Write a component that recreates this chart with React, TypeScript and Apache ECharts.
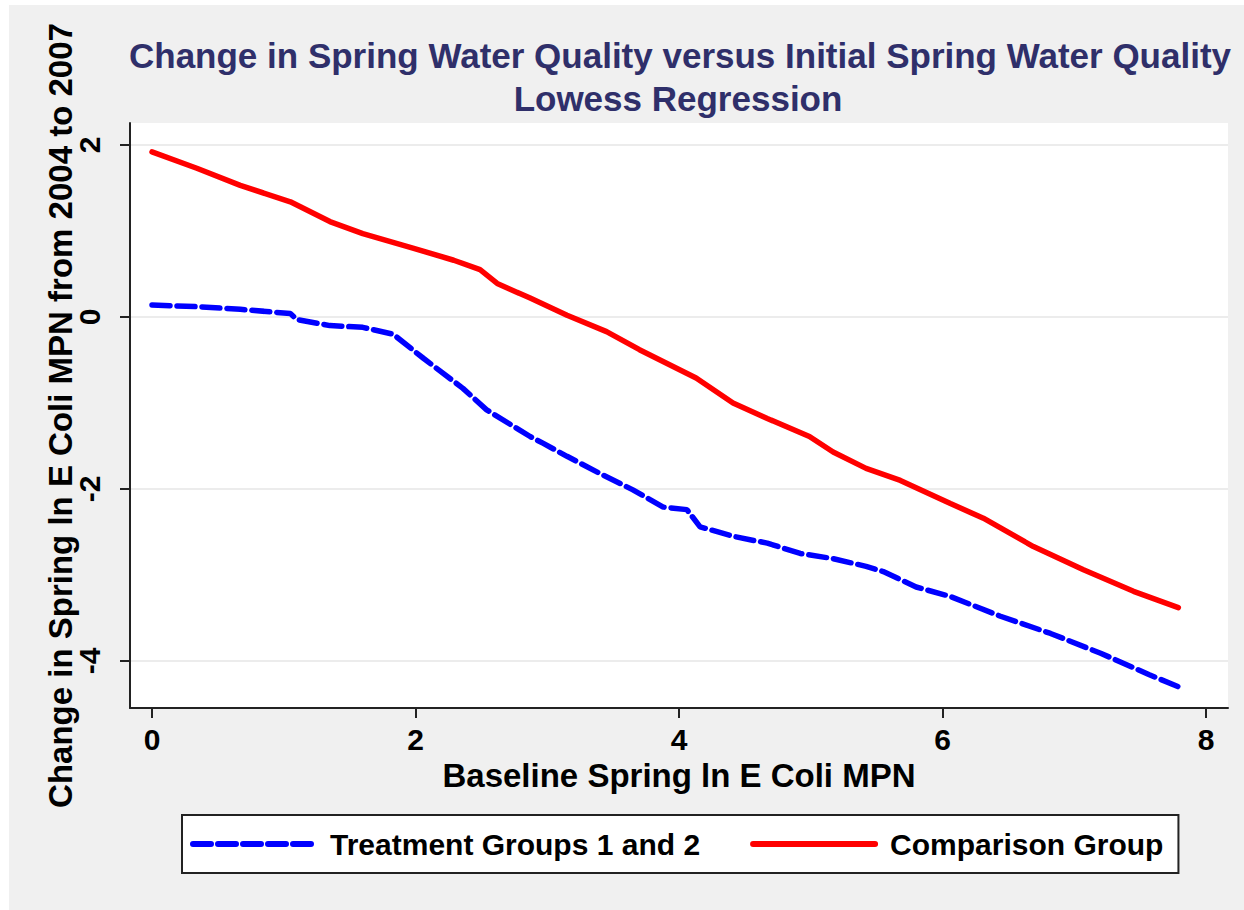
import React, { useEffect, useRef } from "react";
import * as echarts from "echarts";

const titleLines = [
  "Change in Spring Water Quality versus Initial Spring Water Quality",
  "Lowess Regression",
];
const xAxisTitle = "Baseline Spring ln E Coli MPN";
const yAxisTitle = "Change in Spring ln E Coli MPN from 2004 to 2007";

const xTicks = [0, 2, 4, 6, 8];
const yTicks = [-4, -2, 0, 2];

const seriesNames = ["Treatment Groups 1 and 2", "Comparison Group"];

const treatmentX = [0, 0.34, 0.67, 1.05, 1.1, 1.35, 1.6, 1.83, 2.06, 2.36, 2.54, 2.87, 2.97, 3.15, 3.4, 3.65, 3.88, 4.06, 4.16, 4.41, 4.67, 4.92, 5.17, 5.42, 5.55, 5.8, 6.06, 6.44, 6.82, 7.2, 7.57, 7.79];
const treatmentY = [0.14, 0.12, 0.09, 0.04, -0.03, -0.1, -0.12, -0.2, -0.48, -0.83, -1.08, -1.39, -1.47, -1.62, -1.82, -2.01, -2.21, -2.24, -2.44, -2.55, -2.63, -2.75, -2.81, -2.9, -2.96, -3.14, -3.25, -3.48, -3.68, -3.91, -4.16, -4.3];

const comparisonX = [0, 0.34, 0.67, 1.05, 1.35, 1.6, 1.98, 2.29, 2.49, 2.62, 2.87, 3.15, 3.45, 3.7, 4.13, 4.41, 4.67, 4.99, 5.17, 5.42, 5.68, 6.06, 6.31, 6.69, 7.07, 7.45, 7.79];
const comparisonY = [1.92, 1.73, 1.53, 1.34, 1.11, 0.97, 0.8, 0.66, 0.55, 0.39, 0.22, 0.02, -0.17, -0.38, -0.71, -1.0, -1.18, -1.39, -1.57, -1.76, -1.9, -2.17, -2.34, -2.67, -2.94, -3.19, -3.38];

const FONT = "'Liberation Sans', Arial, sans-serif";

export default function App() {
  const ref = useRef<HTMLDivElement>(null);

  useEffect(() => {
    if (!ref.current) return;
    const chart = echarts.init(ref.current, null, { renderer: "svg" });
    const treatment = treatmentX.map((x, i) => [x, treatmentY[i]]);
    const comparison = comparisonX.map((x, i) => [x, comparisonY[i]]);

    chart.setOption({
      animation: false,
      backgroundColor: "#f0f0f0",
      textStyle: { fontFamily: FONT },
      graphic: [
        {
          type: "text",
          x: 671,
          y: 50,
          style: {
            text: titleLines[0],
            fill: "#2f2f6a",
            font: `bold 35px ${FONT}`,
            textAlign: "center",
            textVerticalAlign: "middle",
          },
        },
        {
          type: "text",
          x: 669,
          y: 93,
          style: {
            text: titleLines[1],
            fill: "#2f2f6a",
            font: `bold 35px ${FONT}`,
            textAlign: "center",
            textVerticalAlign: "middle",
          },
        },
      ],
      grid: {
        left: 121,
        top: 118,
        width: 1098,
        height: 585,
        show: true,
        backgroundColor: "#ffffff",
        borderWidth: 0,
        containLabel: false,
      },
      legend: {
        data: seriesNames,
        left: 173,
        top: 810,
        orient: "horizontal",
        backgroundColor: "#ffffff",
        borderColor: "#222222",
        borderWidth: 2,
        borderRadius: 0,
        padding: [14, 15, 14, 8],
        itemGap: 50,
        itemWidth: 122,
        itemHeight: 14,
        itemStyle: { opacity: 0 },
        lineStyle: { width: 6, cap: "round" },
        textStyle: {
          fontFamily: FONT,
          fontSize: 30,
          fontWeight: "bold",
          color: "#000",
          padding: [0, 0, 0, 10],
        },
      },
      xAxis: {
        type: "value",
        min: -0.167,
        max: 8.167,
        name: xAxisTitle,
        nameLocation: "middle",
        nameGap: 51,
        nameTextStyle: { fontFamily: FONT, fontSize: 33, fontWeight: "bold", color: "#000" },
        axisLine: { show: true, onZero: false, lineStyle: { color: "#222", width: 2 } },
        axisTick: { show: true, length: 10, lineStyle: { color: "#222", width: 2 }, customValues: xTicks },
        axisLabel: {
          customValues: xTicks,
          fontFamily: FONT,
          fontSize: 30,
          fontWeight: "bold",
          color: "#000",
          margin: 16,
        },
        splitLine: { show: false },
      },
      yAxis: {
        type: "value",
        min: -4.547,
        max: 2.256,
        name: yAxisTitle,
        nameLocation: "middle",
        nameRotate: 90,
        nameGap: 53,
        nameMoveOverlap: false,
        nameTextStyle: { fontFamily: FONT, fontSize: 33, fontWeight: "bold", color: "#000" },
        axisLine: { show: true, onZero: false, lineStyle: { color: "#222", width: 2 } },
        axisTick: { show: true, length: 10, lineStyle: { color: "#222", width: 2 }, customValues: yTicks },
        axisLabel: {
          customValues: yTicks,
          rotate: 90,
          fontFamily: FONT,
          fontSize: 30,
          fontWeight: "bold",
          color: "#000",
          margin: 26,
        },
        splitLine: { show: true, lineStyle: { color: "#ececec", width: 2 } },
      },
      series: [
        {
          name: seriesNames[0],
          type: "line",
          data: treatment,
          symbol: "none",
          showSymbol: false,
          lineStyle: { color: "#0000ff", width: 5.5, type: [18, 7], cap: "round" },
          itemStyle: { color: "#0000ff" },
        },
        {
          name: seriesNames[1],
          type: "line",
          data: comparison,
          symbol: "none",
          showSymbol: false,
          lineStyle: { color: "#ff0000", width: 5.5, type: "solid", cap: "round" },
          itemStyle: { color: "#ff0000" },
        },
      ],
    });

    return () => chart.dispose();
  }, []);

  return (
    <div
      ref={ref}
      style={{ position: "fixed", left: 9, top: 5, width: 1235, height: 905 }}
    />
  );
}
